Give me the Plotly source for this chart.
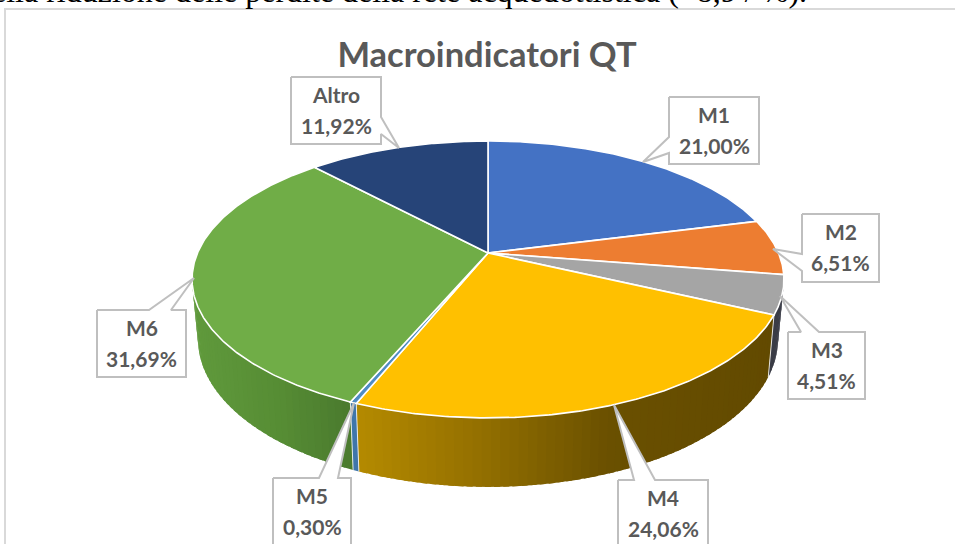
import numpy as np
import plotly.graph_objects as go

# ---- data ----
labels = ["M1", "M2", "M3", "M4", "M5", "M6", "Altro"]
values = [21.00, 6.51, 4.51, 24.06, 0.30, 31.69, 11.92]
top_colors = ["#4472C4", "#ED7D31", "#A5A5A5", "#FFC000", "#4F8CC4", "#70AD47", "#264478"]
title_text = "Macroindicatori QT"
caption_text = "ella riduzione delle perdite della rete acquedottistica (+8,9 / %)."

# ---- layout constants (pixels of the 955x544 page) ----
W, H = 955, 544
APEX = (488.0, 253.0)
PERSP_A, PERSP_B, PERSP_K = 290.5, 133.4, 0.191
BOTTOM_SX, BOTTOM_SY, BOTTOM_D = 0.98, 1.068, 57.8
VIS_START, VIS_END = 101.0, 259.0
GRAY = "#595959"
CALLOUT = "#BFBFBF"

callouts = {
    "Altro": dict(box=(291, 77, 381, 144), side="right", base=(117, 134), tip=(399, 148)),
    "M1": dict(box=(669, 97, 759, 164), side="left", base=(137, 153), tip=(643, 162)),
    "M2": dict(box=(802, 214, 879, 282), side="left", base=(254, 271), tip=(773, 249)),
    "M3": dict(box=(788, 332, 865, 399), side="top", base=(801, 819), tip=(780, 296)),
    "M4": dict(box=(618, 480, 708, 547), side="top", base=(634, 655), tip=(614, 405)),
    "M5": dict(box=(273, 478, 351, 547), side="top", base=(319, 338), tip=(354, 403)),
    "M6": dict(box=(97, 310, 186, 377), side="top", base=(149, 171), tip=(194, 278)),
}

wall_stops = {
    "M3": ([700, 800], [(58, 60, 70), (58, 60, 70)]),
    "M4": ([358, 470, 610, 800], [(180, 138, 0), (150, 114, 0), (106, 80, 0), (97, 73, 0)]),
    "M5": ([300, 400], [(63, 118, 170), (63, 118, 170)]),
    "M6": ([190, 280, 350], [(96, 154, 60), (86, 140, 52), (74, 122, 46)]),
}


def top_xy(deg):
    t = np.radians(deg)
    den = 1 + PERSP_K * np.cos(t)
    return PERSP_A * np.sin(t) / den, -PERSP_B * np.cos(t) / den


def top_px(deg):
    x, y = top_xy(deg)
    return APEX[0] + x, APEX[1] + y


def bottom_px(deg):
    x, y = top_xy(deg)
    return APEX[0] + BOTTOM_SX * x, APEX[1] + BOTTOM_SY * y + BOTTOM_D


def wall_color(name, x):
    xs, cols = wall_stops[name]
    rgb = [np.interp(x, xs, [c[i] for c in cols]) for i in range(3)]
    return "rgb(%d,%d,%d)" % tuple(int(round(v)) for v in rgb)


fig = go.Figure()
edges = np.concatenate([[0], np.cumsum(values)]) / np.sum(values) * 360

# walls: shaded strips, each one lapping over the next so no seams show
for i, name in enumerate(labels):
    a, b = max(edges[i], VIS_START), min(edges[i + 1], VIS_END)
    if b <= a or name not in wall_stops:
        continue
    n = max(1, int(np.ceil((b - a) / 1.5)))
    steps = np.linspace(a, b, n + 1)
    order = list(zip(steps[:-1], steps[1:]))
    for s0, s1 in order:
        seg = np.linspace(s0, b if s1 + 1.0 > b else s1 + 1.0, 5)
        tx, ty = top_px(seg)
        bx, by = bottom_px(seg[::-1])
        col = wall_color(name, float(np.mean(top_px(np.array([s0, s1]))[0])))
        fig.add_trace(go.Scatter(
            x=np.r_[tx, bx, tx[0]], y=np.r_[ty, by, ty[0]], mode="lines",
            fill="toself", fillcolor=col, line=dict(width=0),
            hoverinfo="skip", showlegend=False))

# wall seams
for deg in edges[1:-1]:
    if VIS_START < deg < VIS_END:
        tx, ty = top_px(deg)
        bx, by = bottom_px(deg)
        fig.add_trace(go.Scatter(x=[tx, bx], y=[ty, by], mode="lines",
                                 line=dict(color="rgba(255,255,255,0.8)", width=1),
                                 hoverinfo="skip", showlegend=False))

# top face
for i, name in enumerate(labels):
    arc = np.linspace(edges[i], edges[i + 1], max(3, int((edges[i + 1] - edges[i]) * 2)))
    ax, ay = top_px(arc)
    fig.add_trace(go.Scatter(
        x=np.r_[APEX[0], ax, APEX[0]], y=np.r_[APEX[1], ay, APEX[1]], mode="lines",
        fill="toself", fillcolor=top_colors[i], line=dict(color="white", width=1.6),
        name=name, text=name, hoverinfo="text", showlegend=False))

# callouts
annotations = []
for name, value in zip(labels, values):
    c = callouts[name]
    x0, y0, x1, y1 = c["box"]
    b0, b1 = c["base"]
    tx, ty = c["tip"]
    if c["side"] == "top":
        px = [x0, b0, tx, b1, x1, x1, x0, x0]
        py = [y0, y0, ty, y0, y0, y1, y1, y0]
    elif c["side"] == "right":
        px = [x0, x1, x1, tx, x1, x1, x0, x0]
        py = [y0, y0, b0, ty, b1, y1, y1, y0]
    else:
        px = [x0, x1, x1, x0, x0, tx, x0, x0]
        py = [y0, y0, y1, y1, b1, ty, b0, y0]
    fig.add_trace(go.Scatter(x=px, y=py, mode="lines", fill="toself", fillcolor="white",
                             line=dict(color=CALLOUT, width=2), hoverinfo="skip", showlegend=False))
    cx = (x0 + x1) / 2
    for text, dy in ((name, 17.5), (f"{value:.2f}".replace(".", ",") + "%", 48)):
        annotations.append(dict(x=cx, y=y0 + dy, xref="x", yref="y", text=text, showarrow=False,
                                xanchor="center", yanchor="middle",
                                font=dict(family="Lato", size=21, color=GRAY, weight="bold")))

annotations.append(dict(x=808, y=3, xref="x", yref="y", text=caption_text, showarrow=False,
                        xanchor="right", yanchor="bottom", yshift=-7, borderpad=0,
                        font=dict(family="Liberation Serif", size=32, color="black")))

fig.update_layout(
    width=W, height=H, margin=dict(l=0, r=0, t=0, b=0, pad=0),
    paper_bgcolor="white", plot_bgcolor="white", showlegend=False,
    title=dict(text=title_text, x=487 / W, xanchor="center", y=1 - 55 / H, yanchor="middle",
               font=dict(family="Lato", size=34.5, color=GRAY, weight="bold")),
    xaxis=dict(range=[0, W], visible=False, fixedrange=True),
    yaxis=dict(range=[H, 0], visible=False, fixedrange=True),
    annotations=annotations,
    shapes=[dict(type="rect", xref="x", yref="y", x0=5, y0=9, x1=W + 10, y1=H + 10,
                 line=dict(color="#D9D9D9", width=2), fillcolor="rgba(0,0,0,0)", layer="below")],
)
fig.write_html("out.html", config=dict(displayModeBar=False),
               post_script="document.body.style.margin='0';document.body.style.overflow='hidden';")
